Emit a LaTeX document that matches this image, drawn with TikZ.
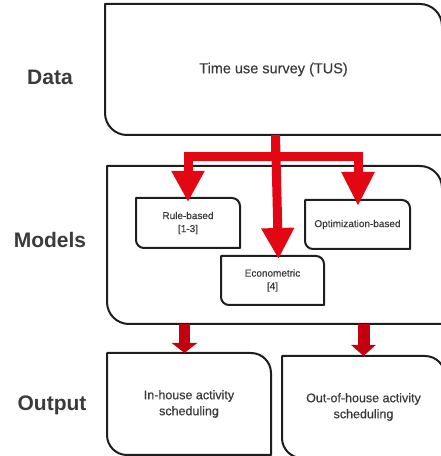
\documentclass[tikz,border=0pt]{standalone}
\usepackage{fontspec}
\setmainfont{Liberation Sans}
\newfontfamily\medfont[FakeBold=0.6]{Liberation Sans}
\newfontfamily\bookfont[FakeBold=0.3]{Liberation Sans}
\usetikzlibrary{arrows.meta,calc}

\definecolor{ink}{HTML}{1E1E1E}
\definecolor{txt}{HTML}{3C3A3A}
\definecolor{flow}{HTML}{E30613}
\definecolor{flowdark}{HTML}{C3000D}

% Border of a box whose top-right and bottom-left corners are rounded
\newcommand\cornerbox[2]{%
  \draw[boxline] (#1.north west) -- ([xshift=-#2]#1.north east)
    arc[start angle=90,end angle=0,radius=#2] -- (#1.south east)
    -- ([xshift=#2]#1.south west)
    arc[start angle=270,end angle=180,radius=#2] -- cycle;}

\begin{document}
\begin{tikzpicture}[x=1pt,y=1pt,
  boxline/.style={draw=ink,line width=2pt,line join=round},
  box/.style={inner sep=0pt,outer sep=0pt,align=center,text=txt},
  bigtext/.style={font=\bookfont\fontsize{14.5}{17}\selectfont},
  smalltext/.style={font=\medfont\fontsize{10}{13}\selectfont},
  midtext/.style={font=\medfont\fontsize{12.5}{16}\selectfont},
  lab/.style={text=txt,font=\bfseries\fontsize{21}{25}\selectfont},
  flowline/.style={draw=flow,line width=9pt,line join=miter,
    -{Triangle[width=31pt,length=31pt]}},
  flowout/.style={draw=flowdark,line width=11pt,
    -{Triangle[width=25pt,length=10pt]}}]
\useasboundingbox (0,0) rectangle (441,456);
\clip (0,0) rectangle (441,456);

% row labels
\node[lab] (ldata) at (50,379) {Data};
\node[lab] (lmodels) at (50,216) {Models};
\node[lab] (loutput) at (52,51) {Output};

% data layer
\node[box,bigtext,minimum width=337pt,minimum height=131pt] (data) at (273.5,386.5) {Time use survey (TUS)};

% model layer
\node[box,minimum width=335pt,minimum height=158pt] (models) at (274.5,211) {};
\node[box,smalltext,minimum width=104pt,minimum height=50pt] (rule) at (188,233) {Rule-based\\{[1-3]}};
\node[box,smalltext,minimum width=105pt,minimum height=49pt] (opt) at (357.5,231.5) {Optimization-based};
\node[box,smalltext,minimum width=103pt,minimum height=49pt] (econ) at (272.5,175.5) {Econometric\\{[4]}};

% output layer
\node[box,midtext,minimum width=164pt,minimum height=102pt] (inhouse) at (189,52) {In-house activity\\scheduling};
\node[box,midtext,minimum width=163pt,minimum height=102pt] (outhouse) at (363.5,49) {Out-of-house activity\\scheduling};

\cornerbox{data}{22pt}
\cornerbox{models}{22pt}
\cornerbox{rule}{8pt}
\cornerbox{opt}{8pt}
\cornerbox{econ}{8pt}
\cornerbox{inhouse}{20pt}
\cornerbox{outhouse}{20pt}

% distribution of the survey data to the three model families
\coordinate (cx) at (275.5,0);
\coordinate (bar) at (0,299);
\draw[flowline] (cx |- data.south) -- (cx |- bar) -| ([yshift=-4pt]rule.north);
\draw[flowline,-{Triangle[width=31pt,length=34pt]}] (cx |- data.south) -- (cx |- bar) -| ([xshift=0.5pt,yshift=-6pt]opt.north);
\draw[flowline] (cx |- data.south) -- ([xshift=3pt,yshift=-3pt]econ.north -| cx);

% models feeding the two scheduling outputs
\coordinate (lo) at (184.5,0);
\coordinate (ro) at (363.5,0);
\draw[flowout] (lo |- models.south) -- (lo |- inhouse.north);
\draw[flowout,line width=12pt,-{Triangle[width=24pt,length=11pt]}] (ro |- models.south) -- (ro |- outhouse.north);
\end{tikzpicture}
\end{document}
